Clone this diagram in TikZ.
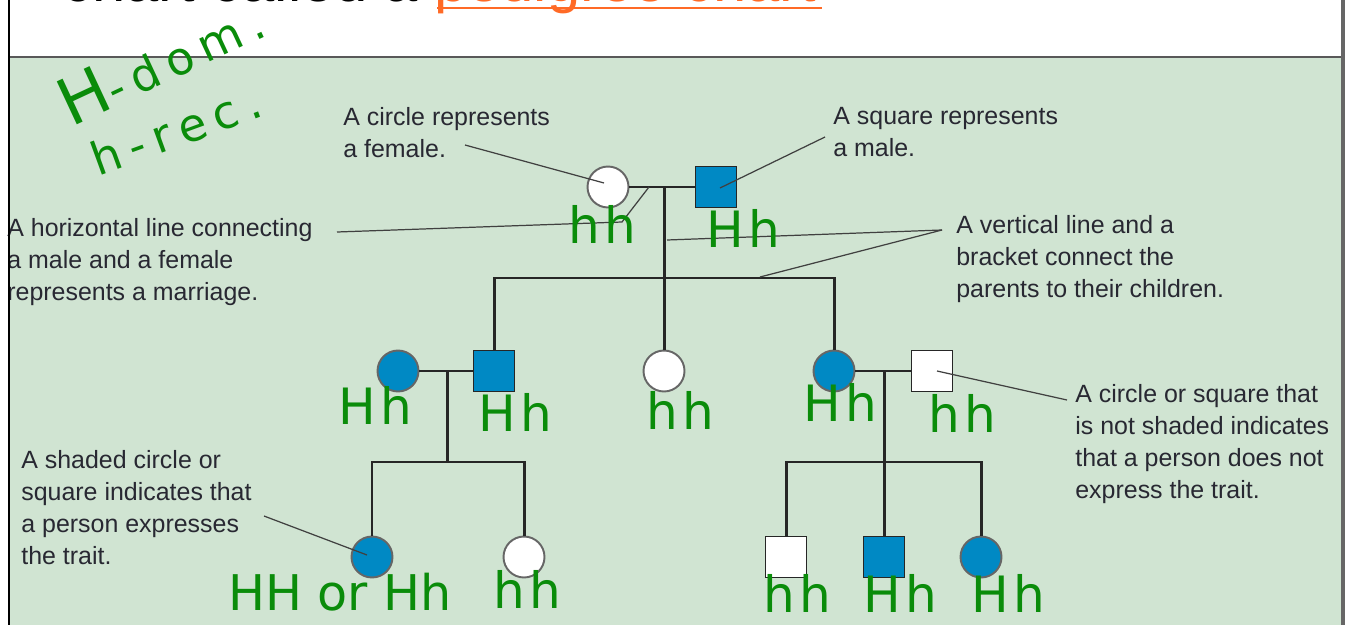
\documentclass[tikz,border=0pt]{standalone}
\usepackage{fontspec}
\setmainfont{Liberation Sans}
\newfontfamily\handfont{DejaVu Sans}
\newfontfamily\handwide{DejaVu Sans}[LetterSpace=9]
\newfontfamily\handwider{DejaVu Sans}[LetterSpace=20]
\definecolor{panel}{RGB}{208,228,210}
\definecolor{pblue}{RGB}{0,137,196}
\definecolor{hgreen}{RGB}{10,140,10}
\definecolor{txt}{RGB}{40,40,50}
\definecolor{titleorange}{RGB}{255,106,38}
\begin{document}
\begin{tikzpicture}[x=0.02cm,y=-0.02cm,
  person/.style={inner sep=0pt, minimum size=0.82cm, line width=1.1pt},
  fem/.style={person, circle, draw=black!60},
  mal/.style={person, rectangle, draw=black!85},
  aff/.style={fill=pblue},
  una/.style={fill=white},
  kin/.style={line width=1.7pt, draw=black!85},
  lead/.style={line width=0.7pt, draw=black!75},
  note/.style={anchor=north west, inner sep=0pt, align=left, text=txt, font=\fontsize{14.2}{18.3}\selectfont},
  hand/.style={text=hgreen, inner sep=0pt, font=\handwide\fontsize{28.5}{30}\selectfont},
]
\useasboundingbox (0,0) rectangle (1351,625);
\fill[white] (0,0) rectangle (1351,625);
\fill[panel] (9,57) rectangle (1342,625);
% clipped title line
\begin{scope}
\clip (0,0) rectangle (1351,625);
\node[anchor=base west, inner sep=0pt, font=\fontsize{34}{40}\selectfont] (title) at (62,2) {chart called a \textcolor{titleorange}{pedigree chart}};
\end{scope}
\draw[titleorange, line width=1.7pt] (437,8) -- (822,8);
% frame
\draw[black!65, line width=1.2pt] (9,57) -- (1343,57);
\draw[line width=1.7pt] (9,0) -- (9,625);
\draw[black!60, line width=1.9pt] (1343,0) -- (1343,625);

% notes
\node[note] (t1) at (343,107) {A circle represents\\a female.};
\node[note] (t2) at (833,107) {A square represents\\a male.};
\node[note] (t4) at (956,215) {A vertical line and a\\bracket connect the\\parents to their children.};
\node[note] (t5) at (1075,384) {A circle or square that\\is not shaded indicates\\that a person does not\\express the trait.};
\node[note] (t6) at (21,450) {A shaded circle or\\square indicates that\\a person expresses\\the trait.};
\node[note] (t3) at (7,218) {A horizontal line connecting\\a male and a female\\represents a marriage.};
\draw[line width=1.7pt] (9,200) -- (9,320);

% generation I
\node[fem, una] (I1) at (608,187) {};
\node[mal, aff] (I2) at (716,187) {};
% generation II
\node[fem, aff] (II1) at (398,371) {};
\node[mal, aff] (II2) at (494,371) {};
\node[fem, una] (II3) at (664,371) {};
\node[fem, aff] (II4) at (834,371) {};
\node[mal, una] (II5) at (932,371) {};
% generation III
\node[fem, aff] (III1) at (372,557) {};
\node[fem, una] (III2) at (524,557) {};
\node[mal, una] (III3) at (786,557) {};
\node[mal, aff] (III4) at (884,557) {};
\node[fem, aff] (III5) at (981,557) {};

\coordinate (m1) at (664,187);
\coordinate (b1) at (664,278);
\coordinate (m2) at (447,371);
\coordinate (b2) at (447,462);
\coordinate (m3) at (884,371);
\coordinate (b3) at (884,462);

\draw[kin] (I1.east) -- (I2.west);
\draw[kin] (m1) -- (II3.north);
\draw[kin] (b1) -| (II2.north);
\draw[kin] (b1) -| (II4.north);
\draw[kin] (II1.east) -- (II2.west);
\draw[kin] (m2) -- (b2);
\draw[kin] (b2) -| (III1.north);
\draw[kin] (b2) -| (III2.north);
\draw[kin] (II4.east) -- (II5.west);
\draw[kin] (m3) -- (III4.north);
\draw[kin] (b3) -| (III3.north);
\draw[kin] (b3) -| (III5.north);

% leader lines
\coordinate (l1) at (465,145);
\coordinate (l2) at (825,137);
\coordinate (l3) at (337,232);
\coordinate (l3b) at (622,222);
\coordinate (l3e) at (649,187);
\coordinate (l4) at (942,230);
\coordinate (l4a) at (667,240);
\coordinate (l4b) at (760,277);
\coordinate (l5) at (1067,400);
\coordinate (l6) at (264,516);
\draw[lead] (l1) -- ([shift={(-4,-4)}]I1.center);
\draw[lead] (l2) -- ([shift={(4,1)}]I2.center);
\draw[lead] (l3) -- (l3b) -- (l3e);
\draw[lead] (l4) -- (l4a);
\draw[lead] (l4) -- (l4b);
\draw[lead] (l5) -- ([shift={(5,0)}]II5.center);
\draw[lead] (l6) -- ([shift={(-5,-2)}]III1.center);

% handwritten notes
\node[hand, rotate=25, font=\handwider\fontsize{26}{30}\selectfont] (hdom) at (160,60) {{\fontsize{37}{40}\selectfont H}-dom.};
\node[hand, rotate=20, font=\handwider\fontsize{26}{30}\selectfont] (hrec) at (176,130) {h-rec.};
\node[hand] (g1) at (602,224) {hh};
\node[hand] (g2) at (743,228) {Hh};
\node[hand] (g3) at (375,405) {Hh};
\node[hand] (g4) at (515,412) {Hh};
\node[hand] (g5) at (680,410) {hh};
\node[hand] (g6) at (840,402) {Hh};
\node[hand] (g7) at (962,413) {hh};
\node[hand, font=\handfont\fontsize{28}{30}\selectfont] (g8) at (340,592) {HH or Hh};
\node[hand] (g9) at (527,589) {hh};
\node[hand] (g10) at (797,593) {hh};
\node[hand] (g11) at (900,593) {Hh};
\node[hand] (g12) at (1008,593) {Hh};
\end{tikzpicture}
\end{document}
